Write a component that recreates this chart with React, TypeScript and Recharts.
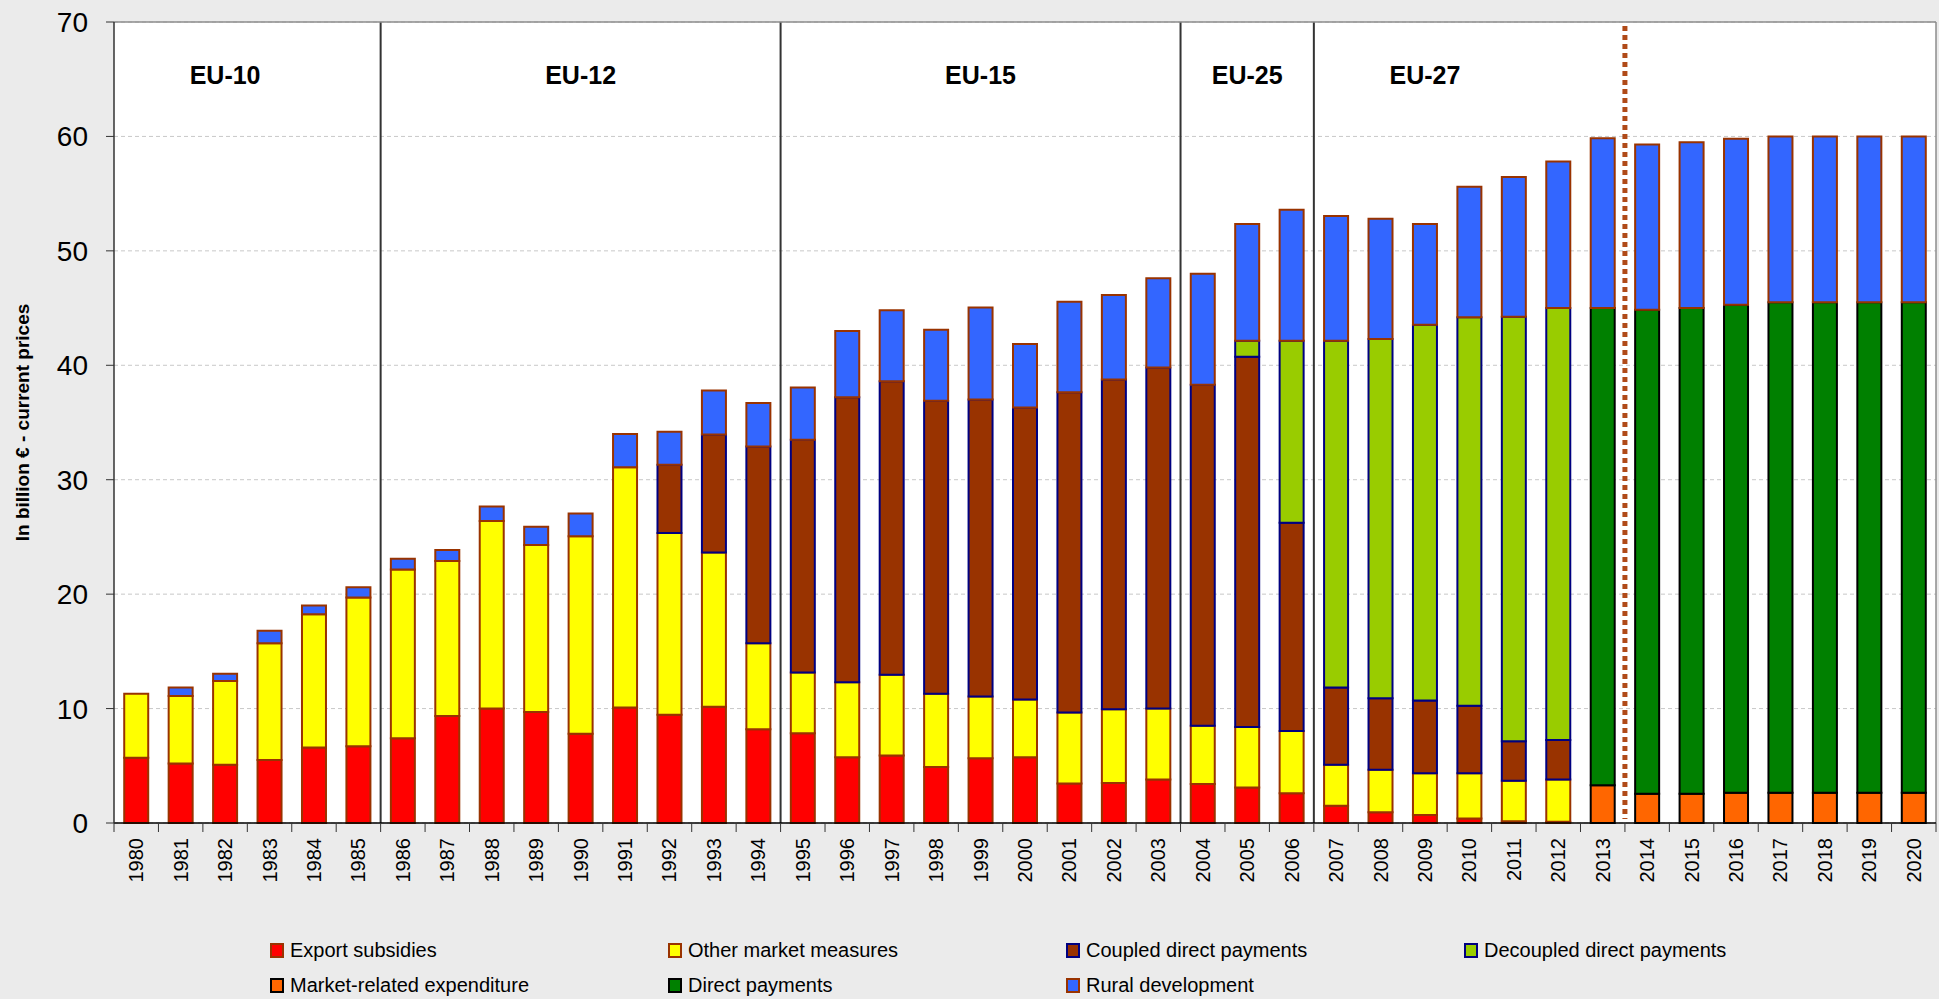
import React from "react";
import {
  BarChart,
  Bar,
  XAxis,
  YAxis,
  CartesianGrid,
  ReferenceArea,
  ReferenceLine,
} from "recharts";

const years = [
  "1980", "1981", "1982", "1983", "1984", "1985", "1986", "1987", "1988", "1989",
  "1990", "1991", "1992", "1993", "1994", "1995", "1996", "1997", "1998", "1999",
  "2000", "2001", "2002", "2003", "2004", "2005", "2006", "2007", "2008", "2009",
  "2010", "2011", "2012", "2013", "2014", "2015", "2016", "2017", "2018", "2019",
  "2020",
];

// billion EUR, current prices (segment heights, bottom to top)
const exportSubsidies = [
  5.7, 5.2, 5.1, 5.5, 6.6, 6.7, 7.4, 9.35, 10.0, 9.7,
  7.8, 10.1, 9.45, 10.15, 8.2, 7.85, 5.75, 5.9, 4.9, 5.65,
  5.75, 3.45, 3.5, 3.8, 3.4, 3.1, 2.6, 1.5, 0.95, 0.7,
  0.4, 0.15, 0.1, 0, 0, 0, 0, 0, 0, 0,
  0,
];
const otherMarketMeasures = [
  5.6, 5.9, 7.3, 10.2, 11.65, 13.0, 14.75, 13.55, 16.4, 14.6,
  17.25, 21.0, 15.9, 13.5, 7.5, 5.3, 6.55, 7.05, 6.4, 5.4,
  5.05, 6.2, 6.45, 6.2, 5.1, 5.3, 5.45, 3.6, 3.7, 3.65,
  3.95, 3.55, 3.7, 0, 0, 0, 0, 0, 0, 0,
  0,
];
const coupledDirect = [
  0, 0, 0, 0, 0, 0, 0, 0, 0, 0,
  0, 0, 5.95, 10.3, 17.2, 20.35, 24.9, 25.65, 25.6, 25.95,
  25.5, 28.0, 28.8, 29.8, 29.8, 32.35, 18.2, 6.75, 6.25, 6.35,
  5.9, 3.45, 3.45, 0, 0, 0, 0, 0, 0, 0,
  0,
];
const decoupledDirect = [
  0, 0, 0, 0, 0, 0, 0, 0, 0, 0,
  0, 0, 0, 0, 0, 0, 0, 0, 0, 0,
  0, 0, 0, 0, 0, 1.4, 15.9, 30.3, 31.4, 32.85,
  33.95, 37.1, 37.75, 0, 0, 0, 0, 0, 0, 0,
  0,
];
const marketRelated = [
  0, 0, 0, 0, 0, 0, 0, 0, 0, 0,
  0, 0, 0, 0, 0, 0, 0, 0, 0, 0,
  0, 0, 0, 0, 0, 0, 0, 0, 0, 0,
  0, 0, 0, 3.3, 2.55, 2.55, 2.65, 2.65, 2.65, 2.65,
  2.65,
];
const directPayments = [
  0, 0, 0, 0, 0, 0, 0, 0, 0, 0,
  0, 0, 0, 0, 0, 0, 0, 0, 0, 0,
  0, 0, 0, 0, 0, 0, 0, 0, 0, 0,
  0, 0, 0, 41.7, 42.3, 42.45, 42.65, 42.85, 42.85, 42.85,
  42.85,
];
const ruralDevelopment = [
  0, 0.75, 0.65, 1.1, 0.75, 0.9, 0.95, 0.95, 1.25, 1.6,
  2.0, 2.9, 2.9, 3.85, 3.8, 4.55, 5.8, 6.2, 6.2, 8.05,
  5.55, 7.9, 7.4, 7.8, 9.7, 10.2, 11.45, 10.9, 10.5, 8.8,
  11.4, 12.2, 12.8, 14.85, 14.45, 14.5, 14.5, 14.5, 14.5, 14.5,
  14.5,
];

const yTicks = [0, 10, 20, 30, 40, 50, 60, 70];

const eras = [
  { name: "EU-10", from: "1980", to: "1985", labelAt: "1982" },
  { name: "EU-12", from: "1986", to: "1994", labelAt: "1990" },
  { name: "EU-15", from: "1995", to: "2003", labelAt: "1999" },
  { name: "EU-25", from: "2004", to: "2006", labelAt: "2005" },
  { name: "EU-27", from: "2007", to: "2020", labelAt: "2009" },
];

const projectionFrom = "2014";

const series = [
  { key: "exportSubsidies", name: "Export subsidies", fill: "#FF0000", stroke: "#993300" },
  { key: "otherMarketMeasures", name: "Other market measures", fill: "#FFFF00", stroke: "#993300" },
  { key: "coupledDirect", name: "Coupled direct payments", fill: "#993300", stroke: "#000080" },
  { key: "decoupledDirect", name: "Decoupled direct payments", fill: "#99CC00", stroke: "#000080" },
  { key: "marketRelated", name: "Market-related expenditure", fill: "#FF6600", stroke: "#000000" },
  { key: "directPayments", name: "Direct payments", fill: "#008000", stroke: "#000000" },
  { key: "ruralDevelopment", name: "Rural development", fill: "#3366FF", stroke: "#993300" },
];

const data = years.map((year, i) => ({
  year,
  exportSubsidies: exportSubsidies[i],
  otherMarketMeasures: otherMarketMeasures[i],
  coupledDirect: coupledDirect[i],
  decoupledDirect: decoupledDirect[i],
  marketRelated: marketRelated[i],
  directPayments: directPayments[i],
  ruralDevelopment: ruralDevelopment[i],
}));

const FONT = "'Liberation Sans', Arial, sans-serif";

function YearTick(props: any) {
  const { x, y, payload, index, width } = props;
  const half = (width || 1822) / years.length / 2;
  return (
    <g>
      <line x1={x - half} x2={x - half} y1={y} y2={y + 9} stroke="#333" />
      {index === years.length - 1 && (
        <line x1={x + half} x2={x + half} y1={y} y2={y + 9} stroke="#333" />
      )}
      <text
        x={x}
        y={y + 15}
        transform={`rotate(-90 ${x} ${y + 15})`}
        textAnchor="end"
        dominantBaseline="central"
        fontSize={20}
        fill="#000"
      >
        {payload.value}
      </text>
    </g>
  );
}

function YTitle(props: any) {
  const vb = props.viewBox || { x: 0, y: 22, height: 801 };
  const cx = 22;
  const cy = vb.y + vb.height / 2;
  return (
    <text
      x={cx}
      y={cy}
      transform={`rotate(-90 ${cx} ${cy})`}
      textAnchor="middle"
      dominantBaseline="central"
      fontSize={19}
      fontWeight="bold"
      fill="#000"
    >
      In billion € - current prices
    </text>
  );
}

const rightEdge = (color: string, w: number, dash?: string) => (p: any) => (
  <line
    x1={p.x + p.width}
    x2={p.x + p.width}
    y1={p.y}
    y2={p.y + p.height}
    stroke={color}
    strokeWidth={w}
    strokeDasharray={dash}
  />
);

const leftEdge = (color: string, w: number, dash?: string) => (p: any) => (
  <line
    x1={p.x}
    x2={p.x}
    y1={p.y + 4}
    y2={p.y + p.height - 4}
    stroke={color}
    strokeWidth={w}
    strokeDasharray={dash}
  />
);

export default function App() {
  return (
    <div
      style={{
        position: "fixed",
        left: 0,
        top: 0,
        width: 1939,
        height: 999,
        background: "#EBEBEB",
        fontFamily: FONT,
        overflow: "hidden",
      }}
    >
      <BarChart
        width={1939}
        height={999}
        data={data}
        margin={{ top: 22, right: 3, bottom: 0, left: 0 }}
        barCategoryGap="23%"
        style={{ fontFamily: FONT }}
      >
        <CartesianGrid
          vertical={false}
          stroke="#C8C8C8"
          strokeDasharray="4 3"
          fill="#FFFFFF"
        />
        <XAxis
          dataKey="year"
          interval={0}
          height={176}
          tickSize={0}
          tickMargin={0}
          tickLine={false}
          axisLine={{ stroke: "#000", strokeWidth: 1.5 }}
          tick={<YearTick />}
        />
        <YAxis
          width={114}
          domain={[0, 70]}
          ticks={yTicks}
          interval={0}
          tickSize={8}
          tickMargin={18}
          tick={{ fontSize: 28, fill: "#000" }}
          tickLine={{ stroke: "#333" }}
          axisLine={{ stroke: "#333", strokeWidth: 1.5 }}
          label={<YTitle />}
        />
        {series.map((s) => (
          <Bar
            key={s.key}
            dataKey={s.key}
            name={s.name}
            stackId="cap"
            fill={s.fill}
            stroke={s.stroke}
            strokeWidth={2}
            isAnimationActive={false}
          />
        ))}
        <ReferenceLine y={70} stroke="#8C8C8C" strokeWidth={1.5} />
        <ReferenceArea
          x1={years[years.length - 1]}
          x2={years[years.length - 1]}
          shape={rightEdge("#8C8C8C", 1.5)}
        />
        {eras.slice(0, -1).map((e) => (
          <ReferenceArea key={e.name} x1={e.from} x2={e.to} shape={rightEdge("#333", 2)} />
        ))}
        <ReferenceArea
          x1={projectionFrom}
          x2={years[years.length - 1]}
          shape={leftEdge("#B04A18", 5, "5 4")}
        />
        {eras.map((e) => (
          <ReferenceLine
            key={"l" + e.name}
            x={e.labelAt}
            stroke="none"
            label={{
              value: e.name,
              position: "insideTop",
              offset: 44,
              style: { fontSize: 25, fontWeight: "bold", fill: "#000" },
            }}
          />
        ))}
      </BarChart>
      <div
        style={{
          position: "absolute",
          left: 270,
          top: 933,
          display: "grid",
          gridTemplateColumns: "repeat(4, 398px)",
          gridAutoRows: "35px",
          fontSize: 20,
          color: "#000",
        }}
      >
        {series.map((s) => (
          <div key={s.key} style={{ display: "flex", alignItems: "center", whiteSpace: "nowrap" }}>
            <span
              style={{
                display: "inline-block",
                width: 14,
                height: 15,
                boxSizing: "border-box",
                background: s.fill,
                border: `2px solid ${s.stroke}`,
                marginRight: 6,
              }}
            />
            {s.name}
          </div>
        ))}
      </div>
    </div>
  );
}
